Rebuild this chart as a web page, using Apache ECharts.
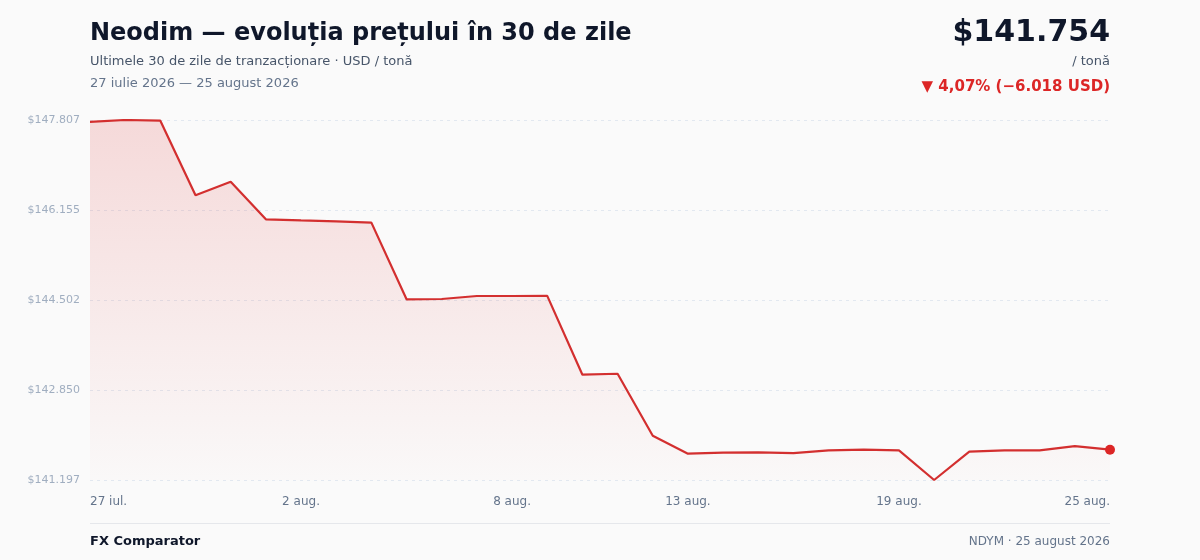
<!DOCTYPE html>
<html>
<head>
<meta charset="utf-8">
<script src="https://cdn.jsdelivr.net/npm/echarts@6/dist/echarts.min.js"></script>
<style>
html,body{margin:0;padding:0;background:#fafafa;}
#chart{width:1200px;height:560px;}
</style>
</head>
<body>
<div id="chart"></div>
<script>
const categories = ['27 iul.','28 iul.','29 iul.','30 iul.','31 iul.','1 aug.','2 aug.','3 aug.','4 aug.','5 aug.','6 aug.','7 aug.','8 aug.','9 aug.','10 aug.','11 aug.','12 aug.','13 aug.','14 aug.','15 aug.','16 aug.','17 aug.','18 aug.','19 aug.','20 aug.','21 aug.','22 aug.','23 aug.','24 aug.','25 aug.'];
const prices = [147.772,147.807,147.794,146.424,146.674,145.984,145.965,145.947,145.922,144.515,144.520,144.575,144.575,144.578,143.130,143.148,142.010,141.680,141.698,141.704,141.692,141.741,141.753,141.741,141.197,141.717,141.741,141.741,141.820,141.754];
const xLabelIdx = [0,6,12,17,23,29];
const yTickLabels = ['$141.197','$142.850','$144.502','$146.155','$147.807'];
const yMin = 141.197, yMax = 147.807;

const FONT = 'DejaVu Sans';
const chart = echarts.init(document.getElementById('chart'));
const last = prices.length - 1;
chart.setOption({
  backgroundColor: '#fafafa',
  textStyle: {fontFamily: FONT},
  animation: false,
  grid: {left: 90, right: 90, top: 120, bottom: 80},
  graphic: [
    {type:'text', left: 90, top: 22, style:{text:'Neodim — evoluția prețului în 30 de zile', font:'bold 24px "DejaVu Sans"', fill:'#0f172a'}},
    {type:'text', left: 90, top: 55, style:{text:'Ultimele 30 de zile de tranzacționare · USD / tonă', font:'13px "DejaVu Sans"', fill:'#475569'}},
    {type:'text', left: 90, top: 77, style:{text:'27 iulie 2026 — 25 august 2026', font:'13px "DejaVu Sans"', fill:'#64748b'}},
    {type:'text', right: 90, top: 18, style:{text:'$141.754', font:'bold 30px "DejaVu Sans"', fill:'#0f172a', textAlign:'right'}},
    {type:'text', right: 90, top: 55, style:{text:'/ tonă', font:'13px "DejaVu Sans"', fill:'#475569', textAlign:'right'}},
    {type:'text', right: 90, top: 80, style:{text:'▼ 4,07% (−6.018 USD)', font:'bold 15px "DejaVu Sans"', fill:'#dc2626', textAlign:'right'}},
    {type:'rect', left: 90, top: 523, shape:{width:1020, height:1}, style:{fill:'#e5e7eb'}},
    {type:'text', left: 90, top: 535, style:{text:'FX Comparator', font:'bold 13px "DejaVu Sans"', fill:'#0f172a'}},
    {type:'text', right: 90, top: 536, style:{text:'NDYM · 25 august 2026', font:'12px "DejaVu Sans"', fill:'#64748b', textAlign:'right'}}
  ],
  xAxis: {
    type: 'category',
    data: categories,
    boundaryGap: false,
    axisLine: {show: false},
    axisTick: {show: false},
    splitLine: {show: false},
    axisLabel: {
      color: '#64748b', fontSize: 12, margin: 16, fontFamily: FONT,
      interval: function(i){ return xLabelIdx.indexOf(i) >= 0; },
      alignMinLabel: 'left', alignMaxLabel: 'right'
    }
  },
  yAxis: {
    type: 'value',
    min: yMin, max: yMax,
    interval: (yMax - yMin) / 4,
    axisLine: {show: false},
    axisTick: {show: false},
    splitLine: {lineStyle: {color: '#e2e8f0', type: [3, 4], width: 1}},
    axisLabel: {
      color: '#a0aec0', fontSize: 11, margin: 10, fontFamily: FONT,
      formatter: function(v, i){ return yTickLabels[i] !== undefined ? yTickLabels[i] : ''; }
    }
  },
  series: [{
    type: 'line',
    data: prices,
    showSymbol: true,
    symbol: 'circle',
    symbolSize: function(v, p){ return p.dataIndex === last ? 10 : 0; },
    itemStyle: {color: '#dc2626'},
    lineStyle: {color: '#d32f2f', width: 2.2},
    areaStyle: {
      color: new echarts.graphic.LinearGradient(0,0,0,1,[
        {offset:0, color:'rgba(220,38,38,0.22)'},
        {offset:1, color:'rgba(220,38,38,0.01)'}
      ])
    }
  }]
});
</script>
</body>
</html>
